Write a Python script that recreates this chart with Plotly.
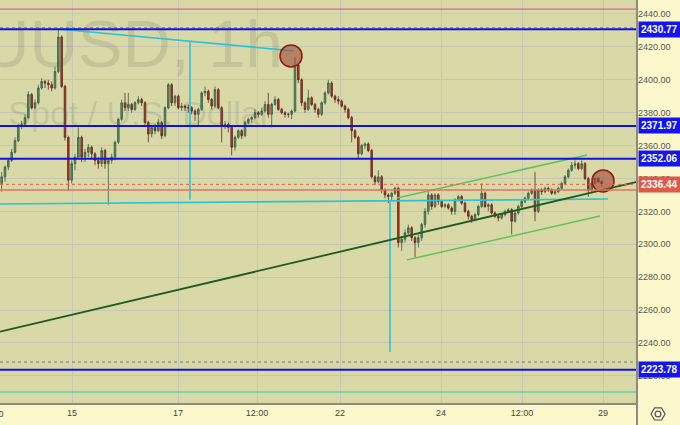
import plotly.graph_objects as go

# ---------------- data ----------------
first_open = 2337
closes = [2341, 2347, 2351, 2356, 2363, 2372, 2373, 2377, 2391, 2383,
          2386, 2395, 2399, 2398, 2397, 2395, 2405, 2426, 2396, 2365,
          2339, 2349, 2353, 2365, 2353, 2356, 2359, 2355, 2351, 2349,
          2357, 2349, 2351, 2353, 2362, 2376, 2386, 2383, 2385, 2382,
          2386, 2388, 2386, 2374, 2367, 2371, 2369, 2374, 2366, 2383,
          2397, 2386, 2390, 2383, 2384, 2383, 2383, 2381, 2379, 2382,
          2392, 2393, 2388, 2384, 2394, 2383, 2372, 2373, 2371, 2359,
          2365, 2369, 2366, 2374, 2376, 2377, 2380, 2379, 2381, 2385,
          2379, 2385, 2388, 2382, 2380, 2379, 2379, 2381, 2409, 2400,
          2386, 2382, 2389, 2385, 2382, 2379, 2386, 2392, 2398, 2390,
          2388, 2387, 2384, 2382, 2377, 2369, 2365, 2355, 2360, 2361,
          2357, 2341, 2338, 2341, 2333, 2330, 2329, 2331, 2334, 2301,
          2303, 2307, 2310, 2304, 2301, 2304, 2312, 2320, 2330, 2323,
          2330, 2326, 2323, 2324, 2322, 2320, 2327, 2329, 2325, 2320,
          2317, 2315, 2318, 2323, 2331, 2323, 2324, 2319, 2317, 2316,
          2318, 2320, 2321, 2314, 2319, 2323, 2326, 2328, 2331, 2333,
          2320, 2333, 2332, 2334, 2333, 2331, 2332, 2334, 2337, 2341,
          2345, 2348, 2349, 2346, 2349, 2340, 2333, 2337, 2340, 2338,
          2336.44]
highs = [2344, 2348, 2352, 2358, 2365, 2373, 2375, 2379, 2393, 2392,
         2388, 2397, 2401, 2400, 2400, 2399, 2408, 2431, 2427, 2397,
         2366, 2351, 2355, 2371, 2366, 2358, 2361, 2360, 2356, 2353,
         2359, 2358, 2352, 2355, 2363, 2377, 2388, 2392, 2392, 2386,
         2387, 2390, 2389, 2387, 2375, 2372, 2373, 2376, 2375, 2384,
         2398, 2398, 2391, 2391, 2386, 2385, 2385, 2384, 2382, 2383,
         2393, 2396, 2394, 2389, 2396, 2395, 2384, 2375, 2374, 2372,
         2366, 2370, 2370, 2375, 2377, 2378, 2382, 2381, 2383, 2387,
         2392, 2386, 2390, 2389, 2383, 2381, 2380, 2382, 2414, 2410,
         2401, 2387, 2394, 2390, 2386, 2383, 2387, 2393, 2400, 2399,
         2391, 2390, 2388, 2385, 2383, 2378, 2370, 2366, 2361, 2362,
         2362, 2358, 2342, 2345, 2342, 2334, 2331, 2332, 2335, 2335,
         2305, 2309, 2312, 2311, 2305, 2306, 2313, 2322, 2332, 2331,
         2331, 2331, 2327, 2325, 2325, 2323, 2328, 2330, 2330, 2326,
         2321, 2318, 2319, 2324, 2337, 2332, 2325, 2325, 2320, 2318,
         2319, 2321, 2322, 2322, 2320, 2324, 2327, 2329, 2332, 2334,
         2344, 2334, 2334, 2335, 2335, 2334, 2333, 2335, 2338, 2342,
         2346, 2350, 2351, 2350, 2351, 2350, 2341, 2338, 2341, 2341,
         2339]
lows = [2332, 2338, 2345, 2350, 2355, 2362, 2370, 2372, 2376, 2382,
        2382, 2385, 2394, 2395, 2394, 2393, 2394, 2404, 2395, 2363,
        2333, 2337, 2345, 2352, 2350, 2350, 2353, 2352, 2348, 2346,
        2347, 2346, 2324, 2349, 2351, 2361, 2375, 2381, 2381, 2380,
        2381, 2385, 2384, 2372, 2362, 2365, 2367, 2368, 2364, 2365,
        2382, 2384, 2384, 2382, 2381, 2381, 2380, 2379, 2375, 2372,
        2381, 2390, 2386, 2382, 2383, 2382, 2362, 2370, 2368, 2354,
        2357, 2364, 2364, 2365, 2373, 2374, 2376, 2377, 2378, 2380,
        2377, 2371, 2384, 2381, 2379, 2377, 2377, 2376, 2380, 2398,
        2384, 2380, 2381, 2384, 2380, 2377, 2378, 2385, 2391, 2389,
        2386, 2385, 2383, 2380, 2376, 2362, 2364, 2352, 2354, 2358,
        2356, 2340, 2336, 2337, 2331, 2328, 2325, 2327, 2330, 2298,
        2296, 2301, 2305, 2302, 2292, 2298, 2302, 2310, 2318, 2321,
        2322, 2324, 2322, 2322, 2321, 2318, 2318, 2326, 2324, 2319,
        2315, 2313, 2314, 2317, 2322, 2322, 2320, 2318, 2316, 2314,
        2315, 2317, 2319, 2306, 2313, 2318, 2322, 2325, 2327, 2330,
        2314, 2319, 2330, 2331, 2332, 2330, 2330, 2331, 2333, 2336,
        2340, 2344, 2346, 2345, 2345, 2339, 2329, 2332, 2336, 2337,
        2335]
opens = [first_open] + closes[:-1]
bars = list(range(len(closes)))

# x-axis labels (bar positions) and price ticks
tick_bars = [21.1, 52.9, 76.6, 101.5, 131.8, 156.1, 180.4]
tick_labels = ["15", "17", "12:00", "22", "24", "12:00", "29"]
cut_tick_label = "12:00"
price_ticks = [2220, 2240, 2260, 2280, 2300, 2320, 2340, 2360, 2380, 2400, 2420, 2440]

# horizontal levels
blue_levels = [2430.77, 2371.97, 2352.06, 2223.78]
last_price = 2336.44
red_level = 2333.0
pink_level = 2443.0
dotted_levels = [2431.6, 2228.4]
mint_level = 2210.2

# drawn lines (bar, price)
trend_x, trend_y = [-0.5, 190.6], [2246.9, 2337.9]
chan_up_x, chan_up_y = [118.6, 175.6], [2328.1, 2354.3]
chan_lo_x, chan_lo_y = [121.6, 179.5], [2290.5, 2317.2]
cyan_top_x, cyan_top_y = [16.9, 87.4], [2430.9, 2417.6]
cyan_base_x, cyan_base_y = [-0.5, 181.9], [2324.5, 2327.5]
cyan_v1_x, cyan_v1_y = [56.5, 56.5], [2423.2, 2327.0]
cyan_v2_x, cyan_v2_y = [116.5, 116.5], [2326.0, 2234.5]
circle_x, circle_y = [86.8, 180.4], [2414.5, 2338.5]

symbol_text = "XAUUSD, 1h"
desc_text = "Gold Spot / U.S. Dollar"

# ---------------- figure ----------------
X_RANGE = [-0.5, 190.6]
Y_RANGE = [2203.5, 2448.5]
FONT = "Liberation Sans, Arial, sans-serif"
CYAN = "#2cc3d6"

fig = go.Figure()

# watermark (behind everything)
fig.add_trace(go.Scatter(x=[84.3], y=[2418.0], mode="text", text=[symbol_text],
                         textposition="middle left", cliponaxis=True,
                         textfont=dict(size=67, color="rgba(90,90,80,0.16)", family=FONT),
                         hoverinfo="skip", showlegend=False))
fig.add_trace(go.Scatter(x=[80.8], y=[2377.5], mode="text", text=[desc_text],
                         textposition="middle left", cliponaxis=True,
                         textfont=dict(size=34, color="rgba(90,90,80,0.16)", family=FONT),
                         hoverinfo="skip", showlegend=False))

def seg(xs, ys, color, width, dash="solid"):
    fig.add_trace(go.Scatter(x=xs, y=ys, mode="lines", line=dict(color=color, width=width, dash=dash),
                             hoverinfo="skip", showlegend=False))

# cyan drawings
seg(cyan_base_x, cyan_base_y, CYAN, 1.6)
seg(cyan_top_x, cyan_top_y, CYAN, 1.6)
seg(cyan_v1_x, cyan_v1_y, CYAN, 1.6)
seg(cyan_v2_x, cyan_v2_y, CYAN, 1.6)

fig.add_trace(go.Candlestick(
    x=bars, open=opens, high=highs, low=lows, close=closes,
    increasing=dict(fillcolor="#4e8f5e", line=dict(color="#3c5e44", width=0.8)),
    decreasing=dict(fillcolor="#b3352b", line=dict(color="#5e2a22", width=0.8)),
    whiskerwidth=0, hoverinfo="skip", showlegend=False))

# trend / channel lines
seg(trend_x, trend_y, "#1f5a1f", 1.8)
seg(chan_up_x, chan_up_y, "#62c062", 1.5)
seg(chan_lo_x, chan_lo_y, "#62c062", 1.5)

# circles
fig.add_trace(go.Scatter(x=circle_x, y=circle_y, mode="markers",
                         marker=dict(size=22, color="rgba(160,70,55,0.6)",
                                     line=dict(color="#8a1f1a", width=1.6)),
                         hoverinfo="skip", showlegend=False))

shapes = []
def hline(y, color, width, dash="solid"):
    shapes.append(dict(type="line", xref="paper", x0=0, x1=1, yref="y", y0=y, y1=y,
                       line=dict(color=color, width=width, dash=dash), layer="above"))

hline(pink_level, "#e0609a", 1.2)
for lv in dotted_levels:
    hline(lv, "#7a7a7a", 1, "dot")
hline(mint_level, "#5cd4a4", 1.5)
hline(red_level, "#e0705c", 1.6)
hline(last_price, "#e0604c", 1, "dot")
for lv in blue_levels:
    hline(lv, "#1010e6", 2)

# right-axis border extending to bottom, and gear icon
shapes.append(dict(type="line", xref="paper", yref="paper", x0=1, x1=1, y0=-0.06, y1=1,
                   line=dict(color="#8c8c7c", width=2)))
shapes.append(dict(type="path", xref="paper", yref="paper",
                   path="M 1.0220,-0.0273 L 1.0275,-0.0122 L 1.0385,-0.0122 L 1.0440,-0.0273 "
                        "L 1.0385,-0.0422 L 1.0275,-0.0422 Z",
                   line=dict(color="#555", width=1.2)))
shapes.append(dict(type="circle", xref="paper", yref="paper",
                   x0=1.0285, x1=1.0375, y0=-0.0345, y1=-0.0200,
                   line=dict(color="#555", width=1.2)))

annotations = []
for lv in blue_levels:
    annotations.append(dict(xref="paper", x=1.002, xanchor="left", yref="y", y=lv,
                            text="<b>%.2f</b>" % lv, showarrow=False,
                            bgcolor="#1414f0", borderpad=2,
                            font=dict(color="white", size=10, family=FONT)))
annotations.append(dict(xref="paper", x=1.002, xanchor="left", yref="y", y=last_price,
                        text="<b>%.2f</b>" % last_price, showarrow=False,
                        bgcolor="#dc5a48", borderpad=2,
                        font=dict(color="white", size=10, family=FONT)))
# partly hidden date label at the left edge
annotations.append(dict(xref="paper", x=-0.0118, yref="paper", y=-0.027, yanchor="middle",
                        xanchor="center", text=cut_tick_label, showarrow=False,
                        font=dict(color="#444", size=9, family=FONT)))

fig.update_layout(
    width=680, height=425,
    margin=dict(l=0, r=43, t=0, b=22, autoexpand=False),
    paper_bgcolor="#fdf8cb",
    plot_bgcolor="#d8d9a6",
    shapes=shapes, annotations=annotations,
    font=dict(family=FONT, size=9, color="#444"),
    xaxis=dict(range=X_RANGE, rangeslider=dict(visible=False), showgrid=True,
               gridcolor="#c6c8b4", gridwidth=1, tickvals=tick_bars, ticktext=tick_labels,
               tickfont=dict(size=9, color="#444"), showline=True, linecolor="#8c8c7c",
               linewidth=2, zeroline=False, ticks="", automargin=False),
    yaxis=dict(range=Y_RANGE, side="right", showgrid=True, gridcolor="#c6c8b4", gridwidth=1,
               tickvals=price_ticks, ticktext=["%.2f" % t for t in price_ticks],
               tickfont=dict(size=9, color="#555"), showline=False, zeroline=False, ticks="",
               automargin=False),
    showlegend=False,
)

fig.write_html("out.html", config={"displayModeBar": False},
               post_script="document.body.style.margin='0';document.body.style.padding='0';"
                           "document.body.style.overflow='hidden';")
